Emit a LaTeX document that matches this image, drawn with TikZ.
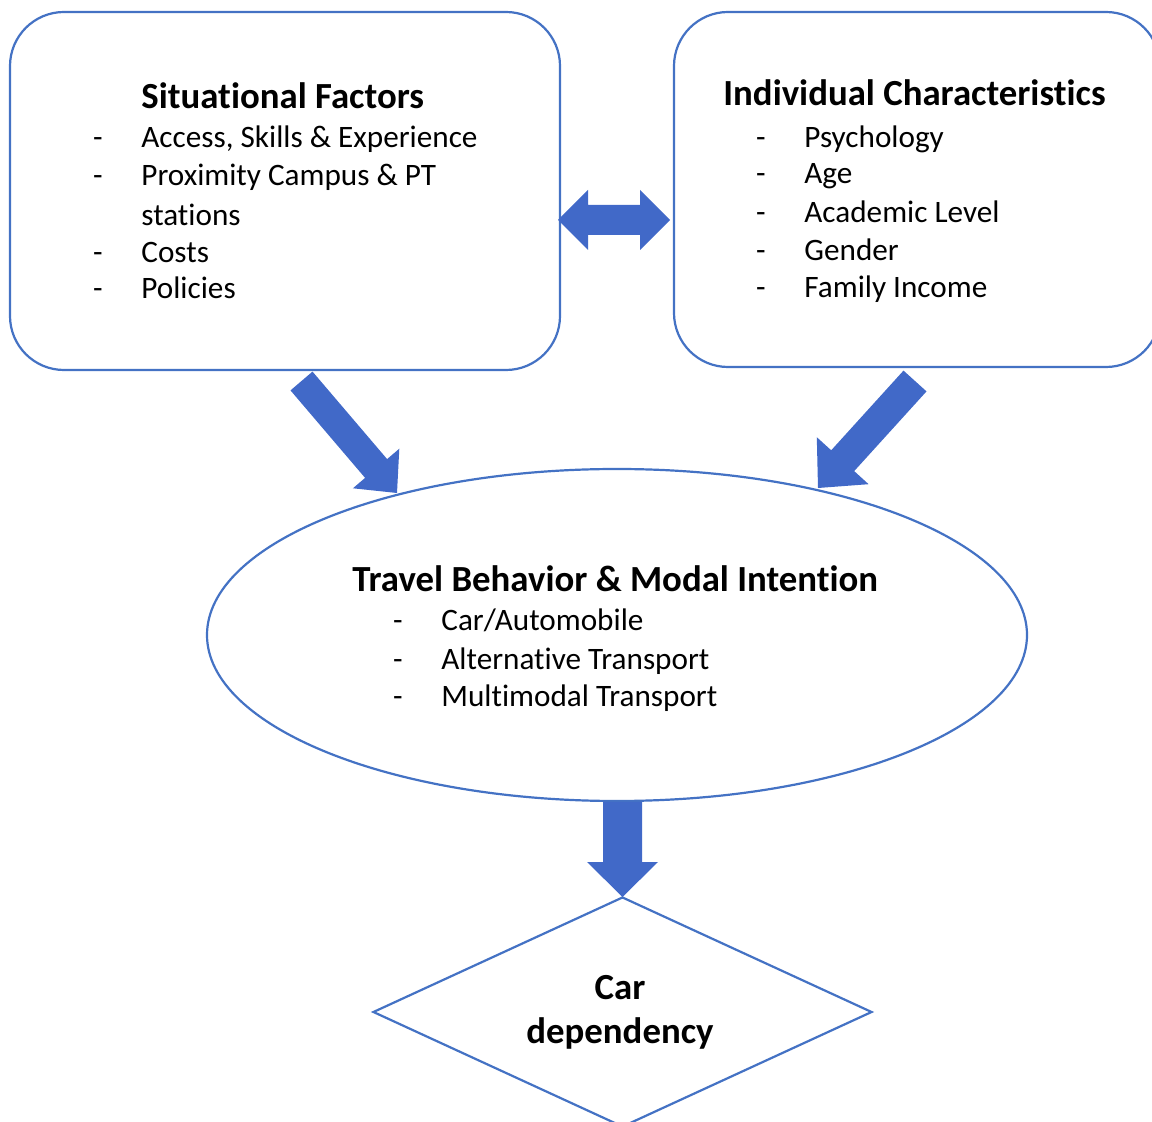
\documentclass[tikz,border=0pt]{standalone}
\usepackage{fontspec}
\setmainfont{Carlito}[Ligatures=NoCommon]
\usetikzlibrary{shapes.geometric}
\definecolor{obox}{HTML}{4472C4}
\definecolor{ofill}{HTML}{4169C8}
\tikzset{
  frame/.style={draw=obox, line width=1.1pt, fill=white},
  blockarrow/.style={fill=ofill, draw=none},
  ttl/.style={anchor=base west, inner sep=0pt, font=\fontsize{18.4}{21}\selectfont\bfseries},
  itm/.style={anchor=base west, inner sep=0pt, font=\fontsize{15.6}{19}\selectfont},
  dsh/.style={anchor=base, inner sep=0pt, font=\fontsize{15.6}{19}\selectfont}
}
\begin{document}
\begin{tikzpicture}[x=0.5pt, y=-0.5pt]
\useasboundingbox (0,0) rectangle (1152,1122);
\clip (0,0) rectangle (1152,1122);
% boxes
\draw[frame, rounded corners=27pt] (10,12) rectangle (560,370);
\draw[frame, rounded corners=27pt] (674,12) rectangle (1160,367);
\node[frame, ellipse, minimum width=410pt, minimum height=166pt, inner sep=0pt] (tb) at (617,635) {};
\node[frame, diamond, minimum width=249.5pt, minimum height=115pt, inner sep=0pt] (cd) at (622.5,1012) {};
% arrows
\fill[blockarrow] (558,220) -- (588,190) -- (588,205) -- (640,205) -- (640,190) -- (670,220)
  -- (640,250) -- (640,235) -- (588,235) -- (588,250) -- cycle;
\fill[blockarrow] (312.5,371.6) -- (387.1,459.1) -- (399.3,448.7) -- (397,493)
  -- (352.9,488.3) -- (365.1,477.9) -- (290.5,390.4) -- cycle;
\fill[blockarrow] (926.5,391.4) -- (854.2,471.1) -- (868.6,484.2) -- (818,488)
  -- (816.8,437.2) -- (831.2,450.3) -- (903.5,370.6) -- cycle;
\fill[blockarrow] (603,802) -- (642,802) -- (642,862) -- (658,862) -- (622.5,897)
  -- (587,862) -- (603,862) -- cycle;
% left box text
\node[ttl] (sft) at (141,109) {Situational Factors};
\foreach \y/\t [count=\i] in {148/{Access, Skills \& Experience},186/{Proximity Campus \& PT},263/{Costs},299/{Policies}}{
  \node[dsh] (sfd\i) at (98,\y) {-};
  \node[itm] (sfi\i) at (141,\y) {\t};
}
\node[itm] (sfi5) at (141,226) {stations};
% right box text
\node[ttl] (ict) at (723,106) {Individual Characteristics};
\foreach \y/\t [count=\i] in {148/{Psychology},184/{Age},223/{Academic Level},261/{Gender},298/{Family Income}}{
  \node[dsh] (icd\i) at (761,\y) {-};
  \node[itm] (ici\i) at (804,\y) {\t};
}
% ellipse text
\node[ttl] (tbt) at (352,592) {Travel Behavior \& Modal Intention};
\foreach \y/\t [count=\i] in {631/{Car/Automobile},670/{Alternative Transport},707/{Multimodal Transport}}{
  \node[dsh] (tbd\i) at (398,\y) {-};
  \node[itm] (tbi\i) at (441,\y) {\t};
}
% diamond text
\node[anchor=base, inner sep=0pt, font=\fontsize{18.4}{21}\selectfont\bfseries] (car1) at (620,999) {Car};
\node[anchor=base, inner sep=0pt, font=\fontsize{18.4}{21}\selectfont\bfseries] (car2) at (620,1043) {dependency};
\end{tikzpicture}
\end{document}
